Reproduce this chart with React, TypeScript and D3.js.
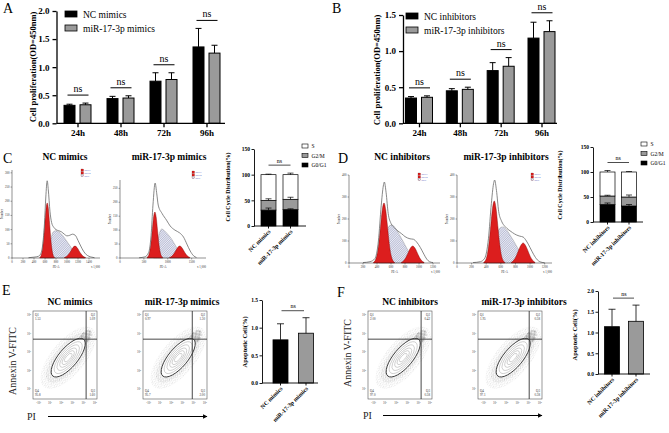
import { useEffect, useRef } from "react";
import * as d3 from "d3";

const SERIF = "'Liberation Serif', 'Times New Roman', serif";

// A / B: cell proliferation (OD=450nm)
const timePoints = ["24h", "48h", "72h", "96h"];
const mimicsNC = [0.32, 0.44, 0.75, 1.36];
const mimicsNCErr = [0.02, 0.04, 0.15, 0.33];
const mimicsMiR = [0.33, 0.45, 0.78, 1.25];
const mimicsMiRErr = [0.03, 0.04, 0.12, 0.14];
const inhibNC = [0.35, 0.45, 0.73, 1.18];
const inhibNCErr = [0.02, 0.03, 0.11, 0.22];
const inhibMiR = [0.36, 0.47, 0.79, 1.27];
const inhibMiRErr = [0.02, 0.03, 0.12, 0.15];

// C / D: cell cycle distribution (%), order G0/G1, G2/M, S
const phases = ["G0/G1", "G2/M", "S"];
const cycleMimics = [[31, 19, 50], [32, 20, 48]];
const cycleMimicsErr = [[4, 3, 1], [1.5, 4, 3]];
const cycleInhib = [[35, 17, 48], [32, 18, 50]];
const cycleInhibErr = [[3, 1.5, 3], [3, 4, 1]];

// C / D: DNA content histograms [PE-A channel, count]
const c1G1 = [[505, 2], [528, 8], [550, 26], [573, 64], [595, 118], [618, 173], [640, 194], [662, 173], [685, 118], [707, 64], [730, 26], [752, 8], [775, 2]];
const c1S = [[600, 0], [650, 25], [700, 62], [750, 92], [800, 96], [850, 92], [900, 84], [950, 72], [1000, 58], [1050, 44], [1100, 30], [1150, 18], [1200, 9], [1260, 3], [1320, 0]];
const c1G2 = [[955, 2], [995, 6], [1033, 14], [1070, 25], [1108, 37], [1145, 42], [1182, 37], [1220, 25], [1257, 14], [1295, 6], [1335, 2]];
const c1Env = [[300, 1], [400, 3], [480, 6], [520, 14], [560, 50], [590, 120], [615, 215], [640, 272], [660, 240], [690, 165], [720, 125], [760, 108], [800, 100], [850, 96], [900, 92], [950, 84], [1000, 78], [1050, 80], [1100, 84], [1150, 80], [1200, 62], [1250, 42], [1300, 24], [1350, 12], [1400, 6], [1450, 3], [1500, 1]];

const c2G1 = [[565, 2], [593, 7], [620, 22], [648, 54], [675, 100], [703, 147], [730, 165], [757, 147], [785, 100], [812, 54], [840, 22], [867, 7], [895, 2]];
const c2S = [[700, 0], [760, 35], [820, 85], [870, 104], [930, 98], [1000, 85], [1080, 68], [1150, 48], [1220, 28], [1300, 12], [1380, 4], [1450, 0]];
const c2G2 = [[1038, 2], [1080, 6], [1123, 14], [1165, 26], [1208, 38], [1250, 43], [1292, 38], [1335, 26], [1377, 14], [1420, 6], [1462, 2]];
const c2Env = [[400, 1], [520, 4], [600, 20], [650, 80], [690, 190], [735, 269], [770, 230], [800, 190], [880, 160], [973, 136], [1050, 115], [1150, 100], [1250, 90], [1330, 75], [1400, 50], [1470, 25], [1540, 8], [1600, 2]];

const d1G1 = [[350, 3], [375, 12], [400, 37], [425, 89], [450, 166], [475, 241], [500, 273], [525, 241], [550, 166], [575, 89], [600, 37], [625, 12], [650, 3]];
const d1S = [[430, 0], [480, 40], [530, 120], [580, 170], [620, 172], [670, 155], [720, 128], [770, 100], [820, 70], [870, 42], [920, 20], [970, 6], [1020, 0]];
const d1G2 = [[748, 3], [780, 10], [813, 25], [845, 47], [878, 68], [910, 77], [942, 68], [975, 47], [1007, 25], [1040, 10], [1072, 3]];
const d1Env = [[200, 2], [300, 6], [370, 20], [420, 100], [460, 260], [490, 350], [505, 368], [530, 320], [560, 225], [600, 180], [650, 160], [700, 145], [752, 133], [800, 120], [871, 110], [920, 108], [967, 95], [1020, 70], [1070, 40], [1110, 18], [1150, 6], [1200, 2]];

const d2G1 = [[366, 3], [390, 12], [414, 38], [438, 92], [462, 171], [486, 249], [510, 282], [534, 249], [558, 171], [582, 92], [606, 38], [630, 12], [654, 3]];
const d2S = [[440, 0], [490, 40], [540, 115], [590, 160], [630, 164], [680, 150], [730, 125], [780, 98], [830, 68], [880, 40], [930, 18], [980, 5], [1030, 0]];
const d2G2 = [[743, 3], [775, 12], [808, 30], [840, 56], [873, 80], [905, 91], [937, 80], [970, 56], [1002, 30], [1035, 12], [1067, 3]];
const d2Env = [[220, 2], [320, 6], [380, 22], [430, 110], [470, 270], [500, 360], [515, 377], [540, 330], [570, 235], [610, 190], [660, 165], [710, 150], [760, 138], [810, 128], [860, 122], [905, 118], [950, 100], [1000, 70], [1050, 38], [1100, 14], [1150, 4], [1200, 1]];

// E / F: flow quadrants [Q1 top-left, Q2 top-right, Q3 bottom-right, Q4 bottom-left]
const flowMimicsNC = ["1.53", "1.09", "1.60", "95.8"];
const flowMimicsMiR = ["0.97", "1.30", "2.00", "95.7"];
const flowInhibNC = ["2.00", "0.42", "0.58", "97.0"];
const flowInhibMiR = ["1.95", "0.58", "0.38", "97.1"];

// E / F: apoptotic cells (%)
const apoptMimics = [0.78, 0.9];
const apoptMimicsErr = [0.29, 0.28];
const apoptInhib = [1.14, 1.27];
const apoptInhibErr = [0.42, 0.39];

const GRAY = "#9a9a9a";
const RED = "#dc1e1e";

type G = any;

function label(g: G, x: number, y: number, s: string, size: number, o: { bold?: boolean; anchor?: string; rot?: number; fill?: string } = {}) {
  const t = g.append("text").attr("x", x).attr("y", y).text(s)
    .attr("font-family", SERIF).attr("font-size", size)
    .attr("font-weight", o.bold ? "bold" : "normal")
    .attr("text-anchor", o.anchor ?? "start").attr("fill", o.fill ?? "#000");
  if (o.rot) t.attr("transform", `rotate(${o.rot},${x},${y})`);
  return t;
}

function styleAxis(ax: G, size: number, width: number) {
  ax.select(".domain").attr("stroke-width", width);
  ax.selectAll(".tick line").attr("stroke-width", width);
  ax.selectAll("text").attr("font-family", SERIF).attr("font-weight", "bold").attr("font-size", size).attr("fill", "#000");
}

function errBar(g: G, cx: number, y1: number, y2: number, cap: number, w: number) {
  g.append("line").attr("x1", cx).attr("x2", cx).attr("y1", y1).attr("y2", y2).attr("stroke", "#000").attr("stroke-width", w);
  g.append("line").attr("x1", cx - cap).attr("x2", cx + cap).attr("y1", y2).attr("y2", y2).attr("stroke", "#000").attr("stroke-width", w);
}

function grouped(root: G, o: any) {
  const base = 123.3;
  const y = d3.scaleLinear().domain([0, o.yMax]).range([base, o.yTop]);
  const x = d3.scalePoint<string>().domain(timePoints).range([o.first, o.last]);
  const g = root.append("g");
  const series = [
    { vals: o.nc, errs: o.ncErr, dx: -13.5, fill: "#000" },
    { vals: o.mir, errs: o.mirErr, dx: 2.5, fill: GRAY },
  ];
  series.forEach((s) => {
    timePoints.forEach((t, i) => {
      const bx = x(t)! + s.dx;
      g.append("rect").attr("x", bx).attr("y", y(s.vals[i])).attr("width", 11)
        .attr("height", base - y(s.vals[i])).attr("fill", s.fill).attr("stroke", "#000").attr("stroke-width", 1);
      errBar(g, bx + 5.5, y(s.vals[i]), y(s.vals[i] + s.errs[i]), 3, 1);
    });
  });
  timePoints.forEach((t, i) => {
    const top = Math.max(o.nc[i] + o.ncErr[i], o.mir[i] + o.mirErr[i]);
    const ly = y(top) - 8;
    g.append("line").attr("x1", x(t)! - 10).attr("x2", x(t)! + 11).attr("y1", ly).attr("y2", ly).attr("stroke", "#000").attr("stroke-width", 1);
    label(g, x(t)! + 0.5, ly - 3, "ns", 10, { anchor: "middle" });
  });
  const yAx = g.append("g").attr("transform", `translate(${o.x0},0)`)
    .call(d3.axisLeft(y).tickValues(o.ticks).tickFormat(d3.format(".1f")).tickSize(4).tickSizeOuter(0));
  styleAxis(yAx, 9, 1.3);
  const xAx = g.append("g").attr("transform", `translate(0,${base})`)
    .call(d3.axisBottom(x).tickSize(4).tickPadding(2));
  xAx.select(".domain").remove();
  styleAxis(xAx, 9, 1.3);
  g.append("line").attr("x1", o.x0).attr("x2", o.xEnd).attr("y1", base).attr("y2", base).attr("stroke", "#000").attr("stroke-width", 1.3);
  o.names.forEach((n: string, i: number) => {
    const ly = o.legY + i * 14;
    g.append("rect").attr("x", o.legX).attr("y", ly).attr("width", 12).attr("height", 6)
      .attr("fill", i === 0 ? "#000" : GRAY).attr("stroke", "#000").attr("stroke-width", 0.8);
    label(g, o.legX + 18, ly + 6.5, n, 9.5);
  });
  label(g, o.ylabX, o.ylabY, "Cell proliferation(OD=450nm)", 8.5, { bold: true, anchor: "middle", rot: -90 });
}

function stacked(root: G, o: any) {
  const y = d3.scaleLinear().domain([0, 150]).range([o.base, o.top]);
  const fills = ["#000", GRAY, "#fff"];
  const g = root.append("g");
  let maxTop = 0;
  o.vals.forEach((vals: number[], j: number) => {
    let cum = 0;
    vals.forEach((v, k) => {
      g.append("rect").attr("x", o.centers[j] - 7.5).attr("y", y(cum + v)).attr("width", 15)
        .attr("height", y(cum) - y(cum + v)).attr("fill", fills[k]).attr("stroke", "#000").attr("stroke-width", 0.7);
      cum += v;
    });
  });
  o.vals.forEach((vals: number[], j: number) => {
    let cum = 0;
    vals.forEach((v, k) => {
      cum += v;
      const e = o.errs[j][k];
      maxTop = Math.max(maxTop, cum + e);
      errBar(g, o.centers[j], y(cum), y(cum + e), 3, 0.7);
    });
  });
  const yAx = g.append("g").attr("transform", `translate(${o.x0},0)`)
    .call(d3.axisLeft(y).tickValues([0, 50, 100, 150]).tickFormat(d3.format("d")).tickSize(2.5).tickPadding(1.5).tickSizeOuter(0));
  styleAxis(yAx, 5.5, 0.9);
  g.append("line").attr("x1", o.x0).attr("x2", o.xEnd).attr("y1", o.base).attr("y2", o.base).attr("stroke", "#000").attr("stroke-width", 0.9);
  o.centers.forEach((c: number, j: number) => {
    g.append("line").attr("x1", c).attr("x2", c).attr("y1", o.base).attr("y2", o.base + 2.5).attr("stroke", "#000").attr("stroke-width", 0.9);
    label(g, c + 2.5, o.base + 6, o.names[j], 6, { bold: true, anchor: "end", rot: -45 });
  });
  const ly = y(maxTop) - 8;
  g.append("line").attr("x1", o.centers[0]).attr("x2", o.centers[1]).attr("y1", ly).attr("y2", ly).attr("stroke", "#000").attr("stroke-width", 0.7);
  label(g, (o.centers[0] + o.centers[1]) / 2, ly - 2.5, "ns", 6, { anchor: "middle" });
  [2, 1, 0].forEach((k, r) => {
    const yy = o.legY + r * 9.5;
    g.append("rect").attr("x", o.legX).attr("y", yy).attr("width", 6).attr("height", 4)
      .attr("fill", fills[k]).attr("stroke", "#000").attr("stroke-width", 0.6);
    label(g, o.legX + 9.5, yy + 4, phases[k], 5.5);
  });
  label(g, o.ylabX, o.ylabY, "Cell Cycle Distribution(%)", 6, { bold: true, anchor: "middle", rot: -90 });
}

function apoptosis(root: G, o: any) {
  const y = d3.scaleLinear().domain([0, o.yMax]).range([o.base, o.top]);
  const g = root.append("g");
  const fills = ["#000", GRAY];
  o.vals.forEach((v: number, j: number) => {
    g.append("rect").attr("x", o.centers[j] - 7.5).attr("y", y(v)).attr("width", 15)
      .attr("height", o.base - y(v)).attr("fill", fills[j]).attr("stroke", "#000").attr("stroke-width", 0.8);
    errBar(g, o.centers[j], y(v), y(v + o.errs[j]), 3.5, 0.8);
  });
  const yAx = g.append("g").attr("transform", `translate(${o.x0},0)`)
    .call(d3.axisLeft(y).tickValues(o.ticks).tickFormat(d3.format(".1f")).tickSize(2.5).tickPadding(1.5).tickSizeOuter(0));
  styleAxis(yAx, 5.5, 0.9);
  g.append("line").attr("x1", o.x0).attr("x2", o.xEnd).attr("y1", o.base).attr("y2", o.base).attr("stroke", "#000").attr("stroke-width", 0.9);
  o.centers.forEach((c: number, j: number) => {
    g.append("line").attr("x1", c).attr("x2", c).attr("y1", o.base).attr("y2", o.base + 2.5).attr("stroke", "#000").attr("stroke-width", 0.9);
    label(g, c + 2.5, o.base + 6, o.names[j], 6, { bold: true, anchor: "end", rot: -45 });
  });
  const top = Math.max(...o.vals.map((v: number, j: number) => v + o.errs[j]));
  const ly = y(top) - 7;
  g.append("line").attr("x1", o.centers[0] + 1).attr("x2", o.centers[1] - 2).attr("y1", ly).attr("y2", ly).attr("stroke", "#000").attr("stroke-width", 0.7);
  label(g, (o.centers[0] + o.centers[1]) / 2, ly - 2.5, "ns", 6, { anchor: "middle" });
  label(g, o.ylabX, o.ylabY, "Apoptotic Cell(%)", 6.5, { bold: true, anchor: "middle", rot: -90 });
}

function histogram(root: G, o: any) {
  const x = d3.scaleLinear().domain([0, o.xMax]).range([o.x0, o.x1]);
  const y = d3.scaleLinear().domain([0, o.yMax]).range([o.base, o.top]);
  const g = root.append("g");
  const area = d3.area<number[]>().x((d) => x(d[0])).y0(o.base).y1((d) => y(d[1])).curve(d3.curveMonotoneX);
  const line = d3.line<number[]>().x((d) => x(d[0])).y((d) => y(d[1])).curve(d3.curveMonotoneX);
  g.append("path").attr("d", area(o.s)).attr("fill", "url(#hatch)").attr("stroke", "#666").attr("stroke-width", 0.3);
  [o.g1, o.g2].forEach((c: number[][]) => {
    g.append("path").attr("d", area(c)).attr("fill", RED).attr("stroke", "#7a0000").attr("stroke-width", 0.4);
  });
  g.append("path").attr("d", line(o.env)).attr("fill", "none").attr("stroke", "#6a6a6a").attr("stroke-width", 0.8);
  g.append("line").attr("x1", o.x0).attr("x2", o.x0).attr("y1", o.base).attr("y2", o.top).attr("stroke", "#222").attr("stroke-width", 0.5);
  g.append("line").attr("x1", o.x0).attr("x2", o.x1).attr("y1", o.base).attr("y2", o.base).attr("stroke", "#222").attr("stroke-width", 0.5);
  o.yTicks.forEach((t: number) => {
    g.append("line").attr("x1", o.x0 - 1.5).attr("x2", o.x0).attr("y1", y(t)).attr("y2", y(t)).attr("stroke", "#222").attr("stroke-width", 0.4);
    label(g, o.x0 - 2.5, y(t) + 1, String(t), 3, { anchor: "end", fill: "#333" });
  });
  o.xTicks.forEach((t: number) => {
    g.append("line").attr("x1", x(t)).attr("x2", x(t)).attr("y1", o.base).attr("y2", o.base + 1.5).attr("stroke", "#222").attr("stroke-width", 0.4);
    label(g, x(t), o.base + 5, String(t), 3, { anchor: "middle", fill: "#333" });
  });
  label(g, (o.x0 + o.x1) / 2, o.base + 10, "PE-A", 3, { anchor: "middle", fill: "#333" });
  label(g, o.x1, o.base + 10, "x 1,000", 3, { anchor: "end", fill: "#333" });
  label(g, o.x0 - 9, (o.base + o.top) / 2, "Number", 3, { anchor: "middle", rot: -90, fill: "#333" });
  ["Dip G1", "Dip G2", "Dip S"].forEach((n, i) => {
    g.append("rect").attr("x", o.legX).attr("y", o.legY + i * 2.8).attr("width", 2.5).attr("height", 2.2)
      .attr("fill", i < 2 ? RED : "url(#hatch)").attr("stroke", "#600").attr("stroke-width", 0.2);
    label(g, o.legX + 3.5, o.legY + i * 2.8 + 2, n, 2, { fill: "#2233aa" });
  });
}

function flow(root: G, o: any) {
  const x = d3.scaleLinear().domain([0, 100]).range([o.left, o.left + 64]);
  const y = d3.scaleLinear().domain([0, 100]).range([o.top + 88, o.top]);
  const g = root.append("g");
  g.append("rect").attr("x", x(0)).attr("y", y(100)).attr("width", x(100) - x(0)).attr("height", y(0) - y(100))
    .attr("fill", "#fff").attr("stroke", "#555").attr("stroke-width", 0.6);
  const cloud = g.append("g").attr("transform", `translate(${x(55)},${y(47)}) rotate(-50)`);
  cloud.append("ellipse").attr("rx", 38).attr("ry", 17).attr("fill", "url(#dots)").attr("opacity", 0.55);
  cloud.append("ellipse").attr("rx", 31).attr("ry", 13).attr("fill", "url(#dotsB)").attr("opacity", 0.8);
  cloud.append("ellipse").attr("cx", 26).attr("rx", 9).attr("ry", 5).attr("fill", "url(#dots2)");
  [1, 0.82, 0.66, 0.5, 0.36, 0.22].forEach((k) => {
    cloud.append("ellipse").attr("rx", 24 * k).attr("ry", 9.5 * k).attr("fill", k === 1 ? "#fff" : "none")
      .attr("stroke", k === 1 ? "#222" : "#a8a8a8").attr("stroke-width", k === 1 ? 0.8 : 0.5);
  });
  g.append("line").attr("x1", x(o.vx)).attr("x2", x(o.vx)).attr("y1", y(0)).attr("y2", y(100)).attr("stroke", "#333").attr("stroke-width", 0.9);
  g.append("line").attr("x1", x(0)).attr("x2", x(100)).attr("y1", y(o.hy)).attr("y2", y(o.hy)).attr("stroke", "#333").attr("stroke-width", 0.9);
  const fs = 3.2;
  label(g, x(0) + 2, y(100) + 5, "Q1", fs, { fill: "#333" });
  label(g, x(0) + 2, y(100) + 9, o.q[0], fs, { fill: "#333" });
  label(g, x(100) - 2, y(100) + 5, "Q2", fs, { anchor: "end", fill: "#333" });
  label(g, x(100) - 2, y(100) + 9, o.q[1], fs, { anchor: "end", fill: "#333" });
  label(g, x(100) - 2, y(0) - 7, "Q3", fs, { anchor: "end", fill: "#333" });
  label(g, x(100) - 2, y(0) - 3, o.q[2], fs, { anchor: "end", fill: "#333" });
  label(g, x(0) + 2, y(0) - 7, "Q4", fs, { fill: "#333" });
  label(g, x(0) + 2, y(0) - 3, o.q[3], fs, { fill: "#333" });
  ["10⁵", "10⁴", "10³", "10²", "10¹"].forEach((t, i) => {
    label(g, x(0) - 2, y(95 - i * 21) + 1, t, 3, { anchor: "end", fill: "#444" });
  });
  ["-10¹", "10¹", "10²", "10³", "10⁴", "10⁵"].forEach((t, i) => {
    label(g, x(9 + i * 17.5), y(0) + 5, t, 3, { anchor: "middle", fill: "#444" });
  });
}

const App = () => {
  const ref = useRef<SVGSVGElement | null>(null);

  useEffect(() => {
    const svg = d3.select(ref.current);
    svg.selectAll("*").remove();
    svg.append("rect").attr("width", 669).attr("height", 433).attr("fill", "#fff");

    const defs = svg.append("defs");
    const hatch = defs.append("pattern").attr("id", "hatch").attr("patternUnits", "userSpaceOnUse")
      .attr("width", 1.6).attr("height", 1.6).attr("patternTransform", "rotate(45)");
    hatch.append("rect").attr("width", 1.6).attr("height", 1.6).attr("fill", "#eceef6");
    hatch.append("line").attr("x1", 0.4).attr("x2", 0.4).attr("y1", 0).attr("y2", 1.6).attr("stroke", "#8c91b8").attr("stroke-width", 0.45);
    const dots = defs.append("pattern").attr("id", "dots").attr("patternUnits", "userSpaceOnUse").attr("width", 4).attr("height", 4);
    [[0.8, 0.9], [2.9, 1.6], [1.7, 3.2], [3.6, 3.5]].forEach(([cx, cy]) => dots.append("circle").attr("cx", cx).attr("cy", cy).attr("r", 0.35).attr("fill", "#444"));
    const dotsB = defs.append("pattern").attr("id", "dotsB").attr("patternUnits", "userSpaceOnUse").attr("width", 3).attr("height", 3);
    [[0.4, 2.1], [2.2, 0.5], [1.6, 1.8]].forEach(([cx, cy]) => dotsB.append("circle").attr("cx", cx).attr("cy", cy).attr("r", 0.33).attr("fill", "#555"));
    const dots2 = defs.append("pattern").attr("id", "dots2").attr("patternUnits", "userSpaceOnUse").attr("width", 2).attr("height", 2);
    [[0.5, 0.6], [1.5, 1.4]].forEach(([cx, cy]) => dots2.append("circle").attr("cx", cx).attr("cy", cy).attr("r", 0.4).attr("fill", "#222"));
    defs.append("marker").attr("id", "arrow").attr("viewBox", "0 0 10 10").attr("refX", 9).attr("refY", 5)
      .attr("markerWidth", 5).attr("markerHeight", 4).attr("orient", "auto")
      .append("path").attr("d", "M0,0 L10,5 L0,10 z").attr("fill", "#000");

    const root = svg.append("g");

    // panel letters
    [["A", 3, 13], ["B", 332, 13], ["C", 3, 163], ["D", 338, 163], ["E", 2, 295], ["F", 337, 297]].forEach(([t, x, y]) =>
      label(root, x as number, y as number, t as string, 14));

    grouped(root, {
      x0: 56.5, xEnd: 225, first: 77.5, last: 206.5, yMax: 2, yTop: 11, ticks: [0, 0.5, 1, 1.5, 2],
      nc: mimicsNC, ncErr: mimicsNCErr, mir: mimicsMiR, mirErr: mimicsMiRErr,
      names: ["NC mimics", "miR-17-3p mimics"], legX: 65, legY: 11, ylabX: 36, ylabY: 67,
    });
    grouped(root, {
      x0: 403, xEnd: 557, first: 419, last: 541.5, yMax: 1.5, yTop: 15, ticks: [0, 0.5, 1, 1.5],
      nc: inhibNC, ncErr: inhibNCErr, mir: inhibMiR, mirErr: inhibMiRErr,
      names: ["NC inhibitors", "miR-17-3p inhibitors"], legX: 406, legY: 13, ylabX: 380, ylabY: 70,
    });

    // C / D titles
    label(root, 65, 160, "NC mimics", 9.5, { bold: true, anchor: "middle" });
    label(root, 169, 160, "miR-17-3p mimics", 9.5, { bold: true, anchor: "middle" });
    label(root, 402, 160, "NC inhibitors", 9.5, { bold: true, anchor: "middle" });
    label(root, 506, 160, "miR-17-3p inhibitors", 9.5, { bold: true, anchor: "middle" });

    histogram(root, { x0: 12, x1: 100, base: 258, top: 170, xMax: 1600, yMax: 310, xTicks: d3.range(0, 1401, 200), yTicks: d3.range(0, 301, 50), g1: c1G1, s: c1S, g2: c1G2, env: c1Env, legX: 81, legY: 169 });
    histogram(root, { x0: 120, x1: 206, base: 258, top: 180, xMax: 1800, yMax: 280, xTicks: [0, 500, 1000, 1500], yTicks: d3.range(0, 251, 50), g1: c2G1, s: c2S, g2: c2G2, env: c2Env, legX: 192, legY: 171 });
    histogram(root, { x0: 349, x1: 440, base: 263, top: 175, xMax: 1300, yMax: 400, xTicks: d3.range(0, 1201, 200), yTicks: d3.range(0, 401, 100), g1: d1G1, s: d1S, g2: d1G2, env: d1Env, legX: 418, legY: 173 });
    histogram(root, { x0: 457, x1: 552, base: 263, top: 175, xMax: 1300, yMax: 400, xTicks: d3.range(0, 1201, 200), yTicks: d3.range(0, 401, 100), g1: d2G1, s: d2S, g2: d2G2, env: d2Env, legX: 531, legY: 173 });

    stacked(root, {
      x0: 254, xEnd: 306, base: 226, top: 149, centers: [268.5, 290.5], names: ["NC mimics", "miR-17-3p mimics"],
      vals: cycleMimics, errs: cycleMimicsErr, legX: 302, legY: 144, ylabX: 230, ylabY: 187,
    });
    stacked(root, {
      x0: 593, xEnd: 643, base: 222, top: 147, centers: [607.5, 629], names: ["NC inhibitors", "miR-17-3p inhibitors"],
      vals: cycleInhib, errs: cycleInhibErr, legX: 641, legY: 142, ylabX: 562, ylabY: 185,
    });

    // E / F titles
    label(root, 70, 305, "NC mimics", 9.5, { bold: true, anchor: "middle" });
    label(root, 182, 305, "miR-17-3p mimics", 9.5, { bold: true, anchor: "middle" });
    label(root, 410, 305, "NC inhibitors", 9.5, { bold: true, anchor: "middle" });
    label(root, 524, 305, "miR-17-3p inhibitors", 9.5, { bold: true, anchor: "middle" });

    flow(root, { left: 33, top: 311, vx: 83, hy: 68, q: flowMimicsNC });
    flow(root, { left: 143, top: 311, vx: 77, hy: 68, q: flowMimicsMiR });
    flow(root, { left: 368, top: 311, vx: 83, hy: 68, q: flowInhibNC });
    flow(root, { left: 478, top: 311, vx: 80, hy: 68, q: flowInhibMiR });

    label(root, 16, 361, "Annexin V-FITC", 10, { anchor: "middle", rot: -90, fill: "#222" });
    label(root, 351, 353, "Annexin V-FITC", 10, { anchor: "middle", rot: -90, fill: "#222" });
    label(root, 27, 420, "PI", 10, { fill: "#222" });
    label(root, 363, 419, "PI", 10, { fill: "#222" });
    [[48, 207, 416.5], [383, 542, 415.5]].forEach(([x1, x2, yy]) =>
      root.append("line").attr("x1", x1).attr("x2", x2).attr("y1", yy).attr("y2", yy)
        .attr("stroke", "#000").attr("stroke-width", 1.1).attr("marker-end", "url(#arrow)"));

    apoptosis(root, {
      x0: 262, xEnd: 318, base: 383, top: 300, yMax: 1.5, ticks: [0, 0.5, 1, 1.5], centers: [280.5, 306],
      names: ["NC mimics", "miR-17-3p mimics"], vals: apoptMimics, errs: apoptMimicsErr, ylabX: 247, ylabY: 342,
    });
    apoptosis(root, {
      x0: 598, xEnd: 650, base: 374, top: 291, yMax: 2, ticks: [0, 0.5, 1, 1.5, 2], centers: [612, 636],
      names: ["NC inhibitors", "miR-17-3p inhibitors"], vals: apoptInhib, errs: apoptInhibErr, ylabX: 577, ylabY: 335,
    });
  }, []);

  return <svg ref={ref} width={669} height={433} style={{ position: "absolute", left: 0, top: 0 }}></svg>;
};

export default App;
